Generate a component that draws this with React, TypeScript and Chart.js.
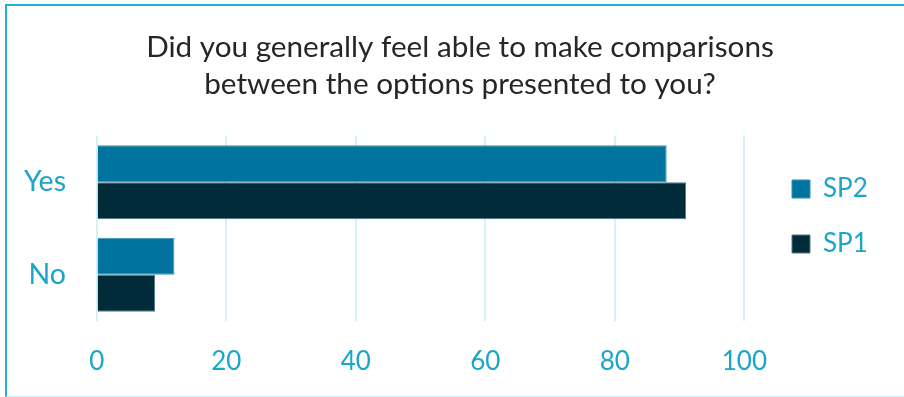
import React, { useEffect, useRef } from "react";
import { Chart, registerables } from "chart.js";

Chart.register(...registerables);

const categories = ["Yes", "No"];
const seriesNames = ["SP2", "SP1"];
const sp2Values = [88, 12];
const sp1Values = [91, 9];
const xTickValues = [0, 20, 40, 60, 80, 100];
const titleLines = [
  "Did you generally feel able to make comparisons",
  "between the options presented to you?",
];

const LABEL_COLOR = "#1ba5c9";
const FONT = "Lato";

export default function App() {
  const ref = useRef<HTMLCanvasElement>(null);

  useEffect(() => {
    if (!ref.current) return;
    const chart = new Chart(ref.current, {
      type: "bar",
      data: {
        labels: categories,
        datasets: [
          {
            label: seriesNames[0],
            data: sp2Values,
            backgroundColor: "#00749e",
            borderColor: "#3790b2",
            borderWidth: 1,
            categoryPercentage: 0.8,
            barPercentage: 1.0,
          },
          {
            label: seriesNames[1],
            data: sp1Values,
            backgroundColor: "#022b3a",
            borderColor: "#52798a",
            borderWidth: 1,
            categoryPercentage: 0.8,
            barPercentage: 1.0,
          },
        ],
      },
      options: {
        indexAxis: "y",
        animation: false,
        responsive: false,
        maintainAspectRatio: false,
        layout: { padding: { left: 16, right: 0, top: 0, bottom: 20 } },
        scales: {
          x: {
            min: 0,
            max: 100,
            afterBuildTicks: (s: any) => {
              s.ticks = xTickValues.map((v) => ({ value: v }));
            },
            afterFit: (s: any) => {
              s.height = 56;
            },
            grid: { color: "#d6f1f8", lineWidth: 2, drawTicks: false },
            border: { display: false },
            ticks: {
              padding: 25,
              color: LABEL_COLOR,
              font: { family: FONT, size: 26 },
            },
          },
          y: {
            grid: { display: false, drawTicks: false },
            border: { display: false },
            afterFit: (s: any) => {
              s.width = 80.7;
            },
            ticks: {
              padding: 30.7,
              color: LABEL_COLOR,
              font: { family: FONT, size: 28.5 },
            },
          },
          y2: {
            type: "linear",
            position: "right",
            display: true,
            grid: { display: false, drawTicks: false },
            border: { display: false },
            ticks: { display: false },
            afterFit: (s: any) => {
              s.width = 18.6;
            },
          },
          y3: {
            type: "linear",
            position: "right",
            display: true,
            weight: 2000,
            grid: { display: false, drawTicks: false },
            border: { display: false },
            ticks: { display: false },
            afterFit: (s: any) => {
              s.width = 30;
            },
          },
        },
        plugins: {
          title: {
            display: true,
            text: titleLines,
            color: "#262626",
            font: { family: FONT, size: 29.7, weight: "normal", lineHeight: 37 / 29.7 },
            padding: { top: 29, bottom: 33 },
          },
          legend: {
            display: true,
            position: "right",
            align: "start",
            fullSize: false,
            title: { display: true, text: "", padding: 0, font: { size: 11, lineHeight: 1 } },
            labels: {
              boxWidth: 18,
              boxHeight: 18,
              padding: 29,
              color: LABEL_COLOR,
              font: { family: FONT, size: 26 },
            },
          },
          tooltip: { enabled: false },
        },
      } as any,
    });
    return () => chart.destroy();
  }, []);

  return (
    <div style={{ position: "fixed", left: 0, top: 0, width: 904, height: 397, background: "#fff" }}>
      <canvas ref={ref} width={904} height={397} style={{ display: "block", width: 904, height: 397 }} />
      <div
        style={{
          position: "fixed",
          left: 5,
          top: 4,
          width: 1000,
          height: 393,
          boxSizing: "border-box",
          borderTop: "2px solid #1fb0d2",
          borderLeft: "2px solid #1fb0d2",
          borderBottom: "1px solid #c8eef6",
          pointerEvents: "none",
        }}
      />
    </div>
  );
}
